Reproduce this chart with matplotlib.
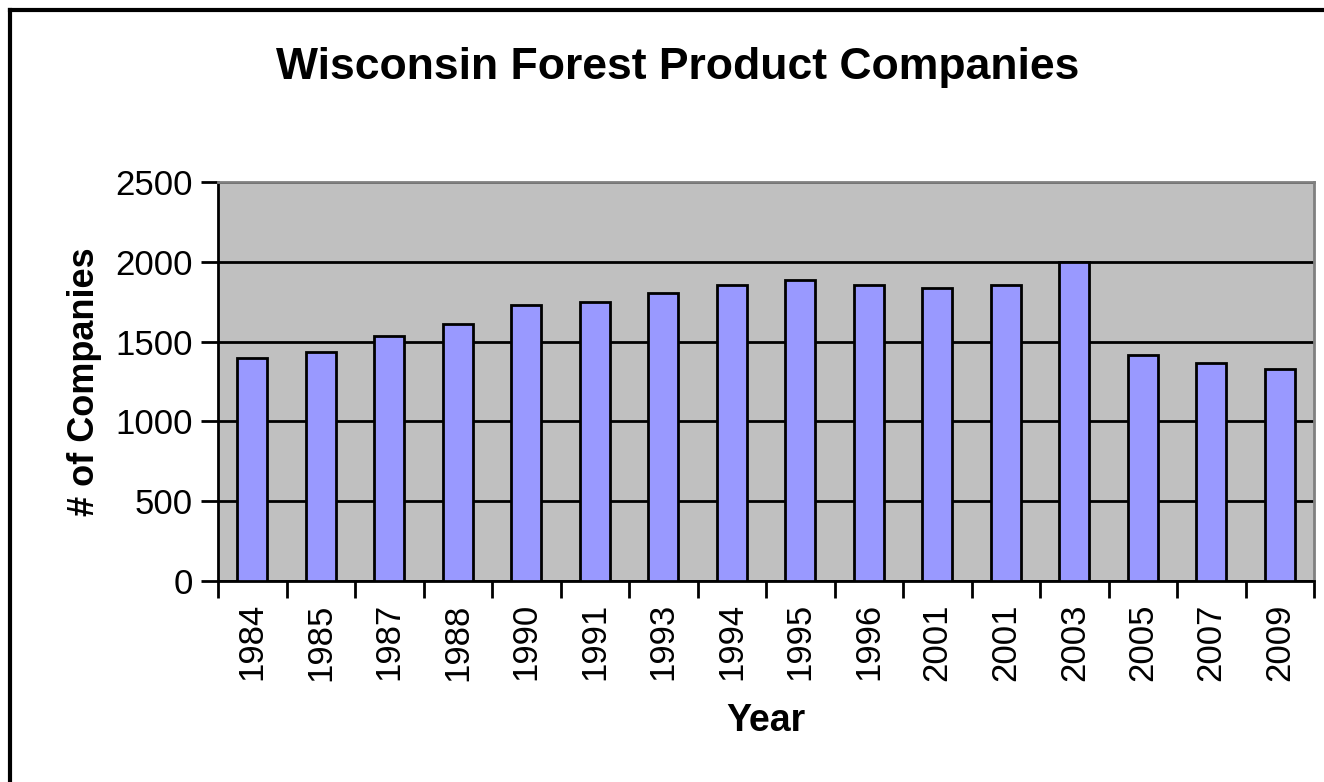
import numpy as np
import matplotlib
matplotlib.use('Agg')
import matplotlib.pyplot as plt
from matplotlib.lines import Line2D

plt.rcParams['font.family'] = ['Liberation Sans', 'DejaVu Sans']

years = ['1984', '1985', '1987', '1988', '1990', '1991', '1993', '1994',
         '1995', '1996', '2001', '2001', '2003', '2005', '2007', '2009']
companies = [1397, 1432, 1537, 1608, 1729, 1747, 1805, 1855,
             1886, 1855, 1835, 1854, 2000, 1415, 1365, 1327]
yticks = [0, 500, 1000, 1500, 2000, 2500]

fig = plt.figure(figsize=(13.24, 7.82), dpi=100)
ax = fig.add_axes([218 / 1324, 1 - 581 / 782, 1096 / 1324, 399 / 782])

x = np.arange(len(years))
ax.set_facecolor('#C0C0C0')
ax.bar(x, companies, width=0.44, color='#9999FF', edgecolor='black',
       linewidth=2, zorder=3)

ax.set_xlim(-0.5, len(years) - 0.5)
ax.set_ylim(0, 2500)
ax.set_yticks(yticks)
ax.set_yticklabels([str(v) for v in yticks], fontsize=25)
ax.yaxis.grid(True, color='black', linewidth=2, zorder=1)
ax.set_axisbelow(True)
ax.tick_params(axis='y', length=12, width=2, pad=6)

# labels at bar centres, tick marks between categories
ax.set_xticks(x)
ax.set_xticklabels(years, rotation=90, fontsize=25)
ax.tick_params(axis='x', which='major', length=0, pad=16)
ax.set_xticks(np.arange(-0.5, len(years)), minor=True)
ax.tick_params(axis='x', which='minor', length=12, width=2)

ax.spines['left'].set_linewidth(2)
ax.spines['bottom'].set_linewidth(2)
ax.spines['top'].set_color('#808080')
ax.spines['right'].set_color('#808080')
ax.spines['top'].set_linewidth(2)
ax.spines['right'].set_linewidth(2)

ax.set_ylabel('# of Companies', fontsize=26, fontweight='bold', labelpad=10)
ax.set_xlabel('Year', fontsize=27, fontweight='bold', labelpad=16)
fig.text(678 / 1324, 1 - 68 / 782, 'Wisconsin Forest Product Companies',
         fontsize=32, fontweight='bold', ha='center', va='center')

# outer chart frame (left and top edges only visible)
fig.add_artist(Line2D([10 / 1324, 10 / 1324], [0, 1 - 10 / 782],
                      transform=fig.transFigure, color='black', linewidth=3))
fig.add_artist(Line2D([10 / 1324, 1], [1 - 10 / 782, 1 - 10 / 782],
                      transform=fig.transFigure, color='black', linewidth=3))

fig.savefig('out.png', dpi=100, facecolor='white')
